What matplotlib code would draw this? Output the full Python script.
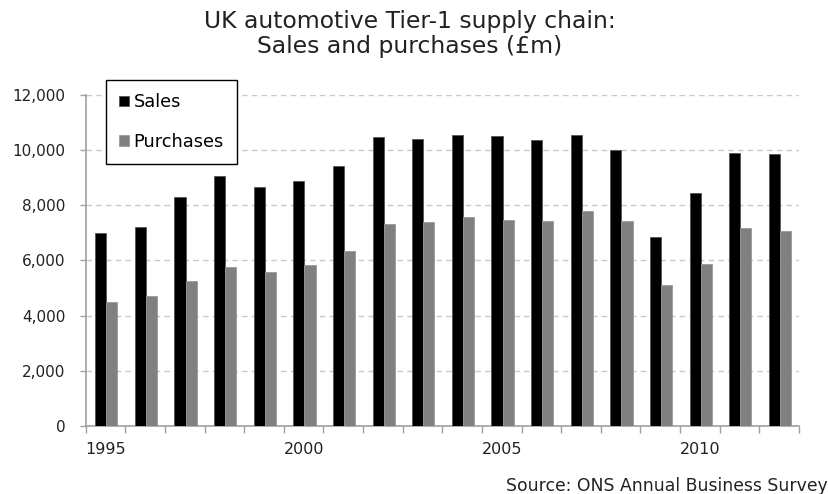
import numpy as np
import matplotlib
matplotlib.use("Agg")
import matplotlib.pyplot as plt
from matplotlib.ticker import FuncFormatter, FixedLocator

# ── Data (£m) ──
years = list(range(1995, 2013))
sales = [7000, 7210, 8290, 9070, 8660, 8860, 9430, 10460, 10400, 10550,
         10500, 10350, 10550, 10000, 6860, 8450, 9890, 9840]
purchases = [4490, 4700, 5260, 5770, 5580, 5830, 6340, 7320, 7370, 7570,
             7470, 7430, 7790, 7430, 5110, 5880, 7160, 7060]
label_years = [1995, 2000, 2005, 2010]

plt.rcParams['font.family'] = ['DejaVu Sans']

fig = plt.figure(figsize=(8.29, 4.94), dpi=100)
ax = fig.add_axes([0.1034, 0.1377, 0.8604, 0.6707])

x = np.arange(len(years))
bw = 0.28
ax.bar(x - bw / 2 + 0.02, sales, width=bw, color='black', edgecolor='#555555',
       linewidth=0.6, label='Sales', zorder=3)
ax.bar(x + bw / 2 + 0.02, purchases, width=bw, color='#808080', edgecolor='#999999',
       linewidth=0.6, label='Purchases', zorder=3)

ax.set_xlim(-0.5, len(years) - 0.5)
ax.set_ylim(0, 12000)

# y axis
ax.set_yticks(np.arange(0, 12001, 2000))
ax.yaxis.set_major_formatter(FuncFormatter(lambda v, p: f"{int(v):,}"))
ax.yaxis.grid(True, color='#c8c8c8', linestyle=(0, (4, 3)), linewidth=1.0, zorder=0)
ax.tick_params(axis='y', length=4.5, width=1, color='#a0a0a0', labelsize=11,
               pad=10.3, labelcolor='#222222')

# x axis: tick marks between categories, labels at selected years
ax.xaxis.set_major_locator(FixedLocator(np.arange(-0.5, len(years), 1.0)))
ax.set_xticklabels([])
label_pos = [years.index(y) for y in label_years]
ax.xaxis.set_minor_locator(FixedLocator(label_pos))
ax.set_xticklabels([str(y) for y in label_years], minor=True)
ax.tick_params(axis='x', which='major', length=5, width=1, color='#a0a0a0')
ax.tick_params(axis='x', which='minor', length=0, labelsize=11.5, pad=11.5,
               labelcolor='#222222')

for side in ['top', 'right']:
    ax.spines[side].set_visible(False)
for side in ['left', 'bottom']:
    ax.spines[side].set_color('#a0a0a0')
    ax.spines[side].set_linewidth(1.2)

leg = ax.legend(loc='upper left', bbox_to_anchor=(0.028, 1.0443), fontsize=12.8,
                frameon=True, fancybox=False, handlelength=0.56, handleheight=0.56,
                handletextpad=0.25, labelspacing=1.2, borderpad=0.75,
                borderaxespad=0, framealpha=1)
leg.get_frame().set_edgecolor('black')
leg.get_frame().set_linewidth(1.0)
leg.set_zorder(5)

fig.text(0.494, 0.979, "UK automotive Tier-1 supply chain:\nSales and purchases (£m)",
         ha='center', va='top', fontsize=16.9, linespacing=1.08, color='#222222')
fig.text(0.998, 0.006, "Source: ONS Annual Business Survey", ha='right',
         va='baseline', fontsize=12.4, color='#222222')

fig.savefig("out.png", dpi=100)
